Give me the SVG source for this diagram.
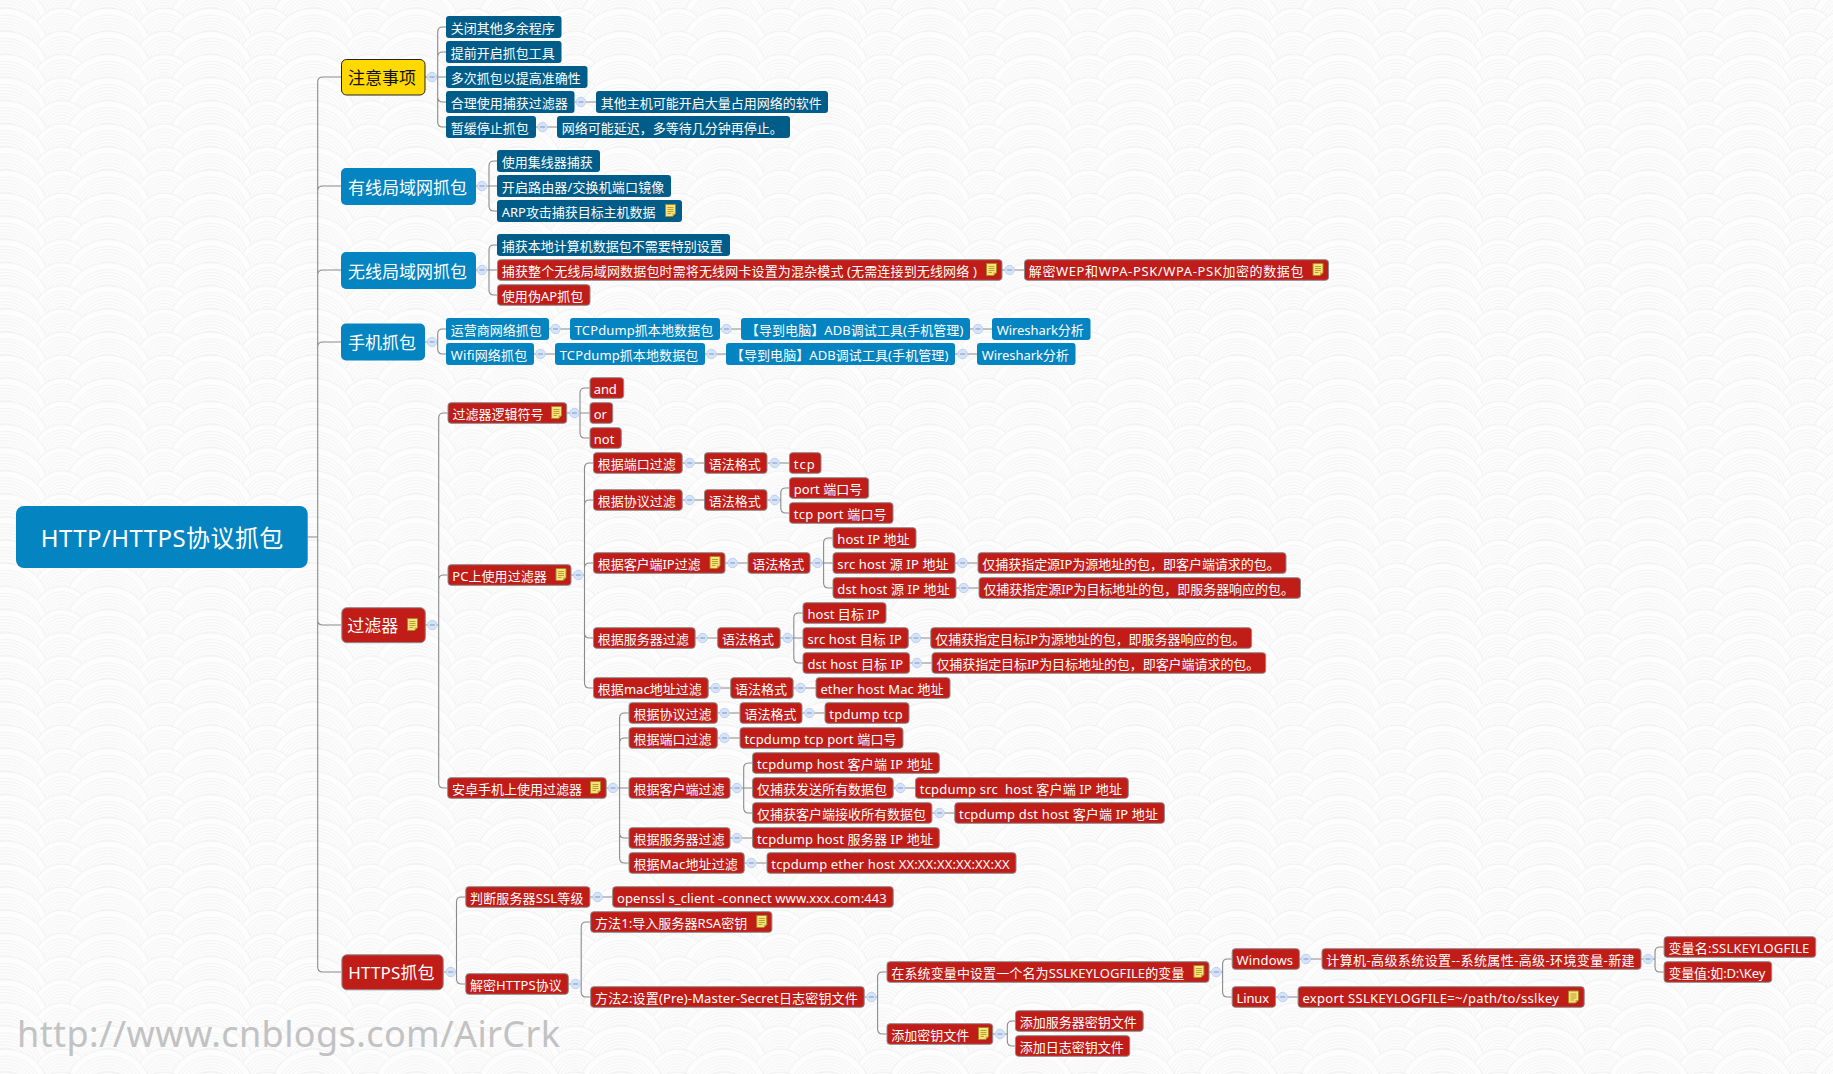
<svg xmlns="http://www.w3.org/2000/svg" xmlns:xlink="http://www.w3.org/1999/xlink" width="1833" height="1074" viewBox="0 0 1833 1074">
<style>
text{font-family:"Noto Sans","Noto Sans CJK SC",sans-serif;font-size:13px;fill:#fff;white-space:pre;transform:translateY(1.2px)}
.n rect{rx:3px;ry:3px}
.db rect{fill:#005c88}
.lb rect{fill:#0484c0}
.r rect{fill:#c01c18;stroke:#8c8c8c;stroke-width:1}
.big text{font-size:17px}
.big rect{rx:5px;ry:5px}
.y rect{fill:#ffd900;stroke:#222;stroke-width:1}
.y text{fill:#111}
#root rect{rx:8px;ry:8px}
#root text{font-size:24px}
.wm{font-size:36px;fill:#c2c2c2}
.cn path{fill:none;stroke:#8a8a8a;stroke-width:1.1}
.t{fill:none;stroke:#f1f1f1;stroke-width:.9}
</style>
<defs>
<g id="rowS"><circle cx="0" cy="29.5" r="28.5" fill="#fdfdfd" stroke="#eeeeee" stroke-width=".9"/><circle class="t" cy="29.5" r="23"/><circle class="t" cy="29.5" r="20"/><circle class="t" cy="29.5" r="17"/><circle class="t" cy="29.5" r="14"/><circle class="t" cy="29.5" r="11"/><circle class="t" cy="29.5" r="8"/></g>
<g id="rowB"><circle cx="0" cy="45" r="44" fill="#fdfdfd" stroke="#eeeeee" stroke-width=".9"/><circle class="t" cy="45" r="37"/><circle class="t" cy="45" r="34"/><circle class="t" cy="45" r="31"/><circle class="t" cy="45" r="28"/><circle class="t" cy="45" r="25"/><circle class="t" cy="45" r="22"/></g>
<g id="row"><use href="#rowS" x="5"/><use href="#rowS" x="107.67"/><use href="#rowB" x="-51.33"/><use href="#rowB" x="51.33"/><use href="#rowB" x="154"/></g>
<pattern id="bg" patternUnits="userSpaceOnUse" x="56.67" y="7.1" width="102.67" height="23.13"><rect width="102.67" height="23.13" fill="#fdfdfd"/><use href="#row" y="-69.39"/><use href="#row" y="-46.26"/><use href="#row" y="-23.13"/><use href="#row"/></pattern>
<g id="note"><path d="M.5 .5H10.5V9.5L7.5 12.5H.5Z" fill="#f8e47e" stroke="#a98a1f"/><path d="M2.5 3.5H8.5M2.5 5.5H8.5M2.5 7.5H8.5M2.5 9.5H6" fill="none" stroke="#a98a1f" stroke-width=".8"/><path d="M7.5 12.5V9.5H10.5Z" fill="#c9a53c"/></g>
<g id="c"><circle r="4.7" fill="#d6e4fa" stroke="#bdd0f0"/><path d="M-2.5 0H2.5" stroke="#7f95b8" fill="none"/></g>
</defs>
<rect width="1833" height="1074" fill="url(#bg)"/>
<text class="wm" x="17" y="1046" textLength="543">http://www.cnblogs.com/AirCrk</text>
<g id="connectors" class="cn">
<path d="M307.7 537H317.7M317.7 537V82q0-5 5-5H341M317.7 537V191q0-5 5-5H341M317.7 537V275q0-5 5-5H341M317.7 537V347q0-5 5-5H341M317.7 537V620q0 5 5 5H341M317.7 537V967q0 5 5 5H341"/>
<path d="M425 77H446M437.7 77V32q0-5 5-5H446M437.7 77V57q0-5 5-5H446M437.7 77V97q0 5 5 5H446M437.7 77V122q0 5 5 5H446"/>
<path d="M575 102H596M536 127H557"/>
<path d="M476 186H497M489 186V166q0-5 5-5H497M489 186V206q0 5 5 5H497"/>
<path d="M476 270H497M489 270V250q0-5 5-5H497M489 270V290q0 5 5 5H497M1002 270H1024"/>
<path d="M425 342H437.7M437.7 342V334q0-5 5-5H446M437.7 342V349q0 5 5 5H446"/>
<path d="M549 329H570M720 329H741M970 329H992M534 354H555M705 354H726M955 354H977"/>
<path d="M425.7 625H438.7M438.7 625V418q0-5 5-5H447.5M438.7 625V580q0-5 5-5H447.5M438.7 625V783q0 5 5 5H447.5"/>
<path d="M567 413H589.5M580 413V393q0-5 5-5H589.5M580 413V433q0 5 5 5H589.5"/>
<path d="M571.4 575H584.5M584.5 575V468q0-5 5-5H593M584.5 575V505q0-5 5-5H593M584.5 575V568q0-5 5-5H593M584.5 575V633q0 5 5 5H593M584.5 575V683q0 5 5 5H593"/>
<path d="M682.5 463H704M767.4 463H789M682.5 500H704"/>
<path d="M767.4 500H780.8M780.8 500V493q0-5 5-5H789M780.8 500V508q0 5 5 5H789"/>
<path d="M725.3 563H747.5M810.3 563H832.5M823.6 563V543q0-5 5-5H832.5M823.6 563V583q0 5 5 5H832.5M955.3 563H977.5M956.4 588H978.6"/>
<path d="M695.4 638H717.3M780.4 638H802.6M793.8 638V618q0-5 5-5H802.6M793.8 638V658q0 5 5 5H802.6M908.6 638H930.4M909.8 663H931.6"/>
<path d="M708.5 688H730.3M793.4 688H815.6"/>
<path d="M606.5 788H628.6M619.6 788V718q0-5 5-5H628.6M619.6 788V743q0-5 5-5H628.6M619.6 788V833q0 5 5 5H628.6M619.6 788V858q0 5 5 5H628.6"/>
<path d="M717.6 713H739.6M802.4 713H824.5M717.6 738H739.6M730.2 838H752.2M744.5 863H766.5"/>
<path d="M730.2 788H752.2M743.7 788V768q0-5 5-5H752.2M743.7 788V808q0 5 5 5H752.2M893.5 788H915M932.2 813H954.3"/>
<path d="M443.5 972H456.5M456.5 972V902q0-5 5-5H465.3M456.5 972V979q0 5 5 5H465.3M590.2 897H612.2"/>
<path d="M568.6 984H581.2M581.2 984V927q0-5 5-5H590.2M581.2 984V992q0 5 5 5H590.2"/>
<path d="M864.5 997H877.6M877.6 997V977q0-5 5-5H886.5M877.6 997V1029q0 5 5 5H886.5"/>
<path d="M1209.4 972H1222.6M1222.6 972V964q0-5 5-5H1231.7M1222.6 972V992q0 5 5 5H1231.7"/>
<path d="M1299.7 959H1321.5M1275.8 997H1297.6"/>
<path d="M1641.3 959H1655M1655 959V952q0-5 5-5H1663.6M1655 959V967q0 5 5 5H1663.6"/>
<path d="M993 1034H1007.3M1007.3 1034V1026q0-5 5-5H1015M1007.3 1034V1041q0 5 5 5H1015"/>
<use href="#c" x="432" y="77"/><use href="#c" x="581" y="102"/><use href="#c" x="542.5" y="127"/>
<use href="#c" x="482" y="186"/><use href="#c" x="482" y="270"/><use href="#c" x="1009.6" y="270"/>
<use href="#c" x="432" y="342"/><use href="#c" x="555.5" y="329"/><use href="#c" x="726.5" y="329"/><use href="#c" x="978" y="329"/>
<use href="#c" x="540.5" y="354"/><use href="#c" x="711.5" y="354"/><use href="#c" x="962.6" y="354"/>
<use href="#c" x="432.3" y="625"/><use href="#c" x="574.5" y="413"/><use href="#c" x="578.3" y="575"/>
<use href="#c" x="689.7" y="463"/><use href="#c" x="774.7" y="463"/><use href="#c" x="689.7" y="500"/><use href="#c" x="774.7" y="500"/>
<use href="#c" x="732.6" y="563"/><use href="#c" x="817.5" y="563"/><use href="#c" x="962.6" y="563"/><use href="#c" x="963.7" y="588"/>
<use href="#c" x="702.7" y="638"/><use href="#c" x="787.7" y="638"/><use href="#c" x="915.9" y="638"/><use href="#c" x="917" y="663"/>
<use href="#c" x="715.7" y="688"/><use href="#c" x="800.7" y="688"/>
<use href="#c" x="613" y="788"/><use href="#c" x="724.5" y="713"/><use href="#c" x="809.4" y="713"/><use href="#c" x="724.5" y="738"/>
<use href="#c" x="737" y="788"/><use href="#c" x="900.4" y="788"/><use href="#c" x="939.6" y="813"/><use href="#c" x="737" y="838"/><use href="#c" x="751.4" y="863"/>
<use href="#c" x="450.8" y="972"/><use href="#c" x="597.6" y="897"/><use href="#c" x="575.5" y="984"/><use href="#c" x="871.4" y="997"/>
<use href="#c" x="1216.3" y="972"/><use href="#c" x="1306" y="959"/><use href="#c" x="1648" y="959"/><use href="#c" x="1282.7" y="997"/><use href="#c" x="1000" y="1034"/>
</g>
<g id="root" class="n lb"><rect x="16" y="506" width="291.7" height="62"/><text x="40.7" y="545.5" textLength="242.6">HTTP/HTTPS协议抓包</text></g>

<g id="t1" class="n big y"><rect x="341.5" y="59.5" width="83.5" height="35.5"/><text x="348" y="83">注意事项</text></g>
<g id="t1a" class="n db"><rect x="446" y="16" width="115.5" height="22"/><text x="450.8" y="31.5">关闭其他多余程序</text></g>
<g id="t1b" class="n db"><rect x="446" y="41" width="115.5" height="22"/><text x="450.8" y="56.5">提前开启抓包工具</text></g>
<g id="t1c" class="n db"><rect x="446" y="66" width="141.5" height="22"/><text x="450.8" y="81.5">多次抓包以提高准确性</text></g>
<g id="t1d" class="n db"><rect x="446" y="91" width="128.5" height="22"/><text x="450.8" y="106.5">合理使用捕获过滤器</text></g>
<g id="t1d1" class="n db"><rect x="596" y="91" width="232" height="22"/><text x="600.8" y="106.5">其他主机可能开启大量占用网络的软件</text></g>
<g id="t1e" class="n db"><rect x="446" y="116" width="90" height="22"/><text x="450.8" y="131.5">暂缓停止抓包</text></g>
<g id="t1e1" class="n db"><rect x="557" y="116" width="233" height="22"/><text x="561.8" y="131.5">网络可能延迟，多等待几分钟再停止。</text></g>

<g id="t2" class="n big lb"><rect x="341" y="168" width="135" height="37"/><text x="348" y="192.5">有线局域网抓包</text></g>
<g id="t2a" class="n db"><rect x="497" y="150" width="103" height="22"/><text x="501.8" y="165.5">使用集线器捕获</text></g>
<g id="t2b" class="n db"><rect x="497" y="175" width="174" height="22"/><text x="501.8" y="190.5" textLength="162.5">开启路由器/交换机端口镜像</text></g>
<g id="t2c" class="n db"><rect x="497" y="200" width="185" height="22"/><text x="501.8" y="215.5" textLength="153.7">ARP攻击捕获目标主机数据</text><use href="#note" x="665" y="204"/></g>

<g id="t3" class="n big lb"><rect x="341" y="252" width="135" height="37"/><text x="348" y="276.5">无线局域网抓包</text></g>
<g id="t3a" class="n db"><rect x="497" y="234" width="233" height="22"/><text x="501.8" y="249.5">捕获本地计算机数据包不需要特别设置</text></g>
<g id="t3b" class="n r"><rect x="497.5" y="259.7" width="504.5" height="20.6"/><text x="501.8" y="274.5" textLength="475">捕获整个无线局域网数据包时需将无线网卡设置为混杂模式 (无需连接到无线网络 )</text><use href="#note" x="986" y="263"/></g>
<g id="t3b1" class="n r"><rect x="1024.5" y="259.7" width="304" height="20.6"/><text x="1028.8" y="274.5" textLength="274.7">解密WEP和WPA-PSK/WPA-PSK加密的数据包</text><use href="#note" x="1312.5" y="263"/></g>
<g id="t3c" class="n r"><rect x="497.5" y="284.7" width="92.5" height="20.6"/><text x="501.8" y="299.5" textLength="81.5">使用伪AP抓包</text></g>

<g id="t4" class="n big lb"><rect x="341" y="323.5" width="84" height="37"/><text x="348" y="348">手机抓包</text></g>
<g id="t4a" class="n lb"><rect x="446" y="318" width="103" height="22"/><text x="450.8" y="333.5">运营商网络抓包</text></g>
<g id="t4a1" class="n lb"><rect x="570" y="318" width="150" height="22"/><text x="574.8" y="333.5" textLength="138.5">TCPdump抓本地数据包</text></g>
<g id="t4a2" class="n lb"><rect x="741" y="318" width="229" height="22"/><text x="745.8" y="333.5" textLength="217.5">【导到电脑】ADB调试工具(手机管理)</text></g>
<g id="t4a3" class="n lb"><rect x="992" y="318" width="98.5" height="22"/><text x="996.8" y="333.5" textLength="87">Wireshark分析</text></g>
<g id="t4b" class="n lb"><rect x="446" y="343" width="88" height="22"/><text x="450.8" y="358.5" textLength="76.5">Wifi网络抓包</text></g>
<g id="t4b1" class="n lb"><rect x="555" y="343" width="150" height="22"/><text x="559.8" y="358.5" textLength="138.5">TCPdump抓本地数据包</text></g>
<g id="t4b2" class="n lb"><rect x="726" y="343" width="229" height="22"/><text x="730.8" y="358.5" textLength="217.5">【导到电脑】ADB调试工具(手机管理)</text></g>
<g id="t4b3" class="n lb"><rect x="977" y="343" width="98.5" height="22"/><text x="981.8" y="358.5" textLength="87">Wireshark分析</text></g>

<g id="t5" class="n big r"><rect x="341.8" y="607.7" width="83.5" height="35"/><text x="347.3" y="631">过滤器</text><use href="#note" x="407" y="618"/></g>
<g id="f1" class="n r"><rect x="448" y="402.7" width="118.7" height="20.6"/><text x="452.4" y="417.5">过滤器逻辑符号</text><use href="#note" x="551" y="406"/></g>
<g id="f1a" class="n r"><rect x="590" y="377.7" width="33.7" height="20.6"/><text x="593.8" y="392.5" textLength="23">and</text></g>
<g id="f1b" class="n r"><rect x="590" y="402.7" width="22.7" height="20.6"/><text x="593.8" y="417.5" textLength="13">or</text></g>
<g id="f1c" class="n r"><rect x="590" y="427.7" width="31.3" height="20.6"/><text x="593.8" y="442.5" textLength="20.6">not</text></g>

<g id="f2" class="n r"><rect x="448" y="564.7" width="123" height="20.6"/><text x="452.3" y="579.5" textLength="94.5">PC上使用过滤器</text><use href="#note" x="555.5" y="568"/></g>
<g id="p1" class="n r"><rect x="593.5" y="452.7" width="88.7" height="20.6"/><text x="597.8" y="467.5">根据端口过滤</text></g>
<g id="p1a" class="n r"><rect x="704.5" y="452.7" width="62.5" height="20.6"/><text x="708.8" y="467.5">语法格式</text></g>
<g id="p1b" class="n r"><rect x="789.5" y="452.7" width="31.5" height="20.6"/><text x="793.8" y="467.5" textLength="21">tcp</text></g>
<g id="p2" class="n r"><rect x="593.5" y="489.7" width="88.7" height="20.6"/><text x="597.8" y="504.5">根据协议过滤</text></g>
<g id="p2a" class="n r"><rect x="704.5" y="489.7" width="62.5" height="20.6"/><text x="708.8" y="504.5">语法格式</text></g>
<g id="p2b" class="n r"><rect x="789.5" y="477.7" width="79.2" height="20.6"/><text x="793.8" y="492.5" textLength="68.5">port 端口号</text></g>
<g id="p2c" class="n r"><rect x="789.5" y="502.7" width="103.5" height="20.6"/><text x="793.8" y="517.5" textLength="92.8">tcp port 端口号</text></g>
<g id="p3" class="n r"><rect x="593.5" y="552.7" width="131.5" height="20.6"/><text x="597.8" y="567.5" textLength="102.8">根据客户端IP过滤</text><use href="#note" x="709.5" y="556"/></g>
<g id="p3a" class="n r"><rect x="748" y="552.7" width="62" height="20.6"/><text x="752.3" y="567.5">语法格式</text></g>
<g id="p3b" class="n r"><rect x="833" y="527.7" width="83" height="20.6"/><text x="837.3" y="542.5" textLength="72.3">host IP 地址</text></g>
<g id="p3c" class="n r"><rect x="833" y="552.7" width="122" height="20.6"/><text x="837.3" y="567.5" textLength="111.3">src host 源 IP 地址</text></g>
<g id="p3c1" class="n r"><rect x="978" y="552.7" width="308" height="20.6"/><text x="982.3" y="567.5" textLength="297.4">仅捕获指定源IP为源地址的包，即客户端请求的包。</text></g>
<g id="p3d" class="n r"><rect x="833" y="577.7" width="123" height="20.6"/><text x="837.3" y="592.5" textLength="112.4">dst host 源 IP 地址</text></g>
<g id="p3d1" class="n r"><rect x="979" y="577.7" width="321.5" height="20.6"/><text x="983.4" y="592.5" textLength="310.6">仅捕获指定源IP为目标地址的包，即服务器响应的包。</text></g>
<g id="p4" class="n r"><rect x="593.5" y="627.7" width="101.6" height="20.6"/><text x="597.8" y="642.5">根据服务器过滤</text></g>
<g id="p4a" class="n r"><rect x="717.7" y="627.7" width="62.4" height="20.6"/><text x="722" y="642.5">语法格式</text></g>
<g id="p4b" class="n r"><rect x="803" y="602.7" width="83" height="20.6"/><text x="807.4" y="617.5" textLength="72.3">host 目标 IP</text></g>
<g id="p4c" class="n r"><rect x="803" y="627.7" width="105.3" height="20.6"/><text x="807.4" y="642.5" textLength="94.5">src host 目标 IP</text></g>
<g id="p4c1" class="n r"><rect x="930.8" y="627.7" width="320.8" height="20.6"/><text x="935.2" y="642.5" textLength="310">仅捕获指定目标IP为源地址的包，即服务器响应的包。</text></g>
<g id="p4d" class="n r"><rect x="803" y="652.7" width="106.5" height="20.6"/><text x="807.4" y="667.5" textLength="95.7">dst host 目标 IP</text></g>
<g id="p4d1" class="n r"><rect x="932" y="652.7" width="333.7" height="20.6"/><text x="936.4" y="667.5" textLength="322.9">仅捕获指定目标IP为目标地址的包，即客户端请求的包。</text></g>
<g id="p5" class="n r"><rect x="593.5" y="677.7" width="114.7" height="20.6"/><text x="597.8" y="692.5" textLength="104">根据mac地址过滤</text></g>
<g id="p5a" class="n r"><rect x="730.7" y="677.7" width="62.4" height="20.6"/><text x="735" y="692.5">语法格式</text></g>
<g id="p5b" class="n r"><rect x="816" y="677.7" width="134" height="20.6"/><text x="820.4" y="692.5" textLength="123.2">ether host Mac 地址</text></g>

<g id="f3" class="n r"><rect x="447.7" y="777.7" width="158.5" height="20.6"/><text x="452" y="792.5">安卓手机上使用过滤器</text><use href="#note" x="590" y="781"/></g>
<g id="a1" class="n r"><rect x="629" y="702.7" width="88.3" height="20.6"/><text x="633.4" y="717.5">根据协议过滤</text></g>
<g id="a1a" class="n r"><rect x="740" y="702.7" width="62" height="20.6"/><text x="744.4" y="717.5">语法格式</text></g>
<g id="a1b" class="n r"><rect x="825" y="702.7" width="84" height="20.6"/><text x="829.3" y="717.5" textLength="73.4">tpdump tcp</text></g>
<g id="a2" class="n r"><rect x="629" y="727.7" width="88.3" height="20.6"/><text x="633.4" y="742.5">根据端口过滤</text></g>
<g id="a2a" class="n r"><rect x="740" y="727.7" width="163" height="20.6"/><text x="744.4" y="742.5" textLength="152.2">tcpdump tcp port 端口号</text></g>
<g id="a3" class="n r"><rect x="629" y="777.7" width="101" height="20.6"/><text x="633.4" y="792.5">根据客户端过滤</text></g>
<g id="a3a" class="n r"><rect x="752.6" y="752.7" width="186.7" height="20.6"/><text x="757" y="767.5" textLength="175.9">tcpdump host 客户端 IP 地址</text></g>
<g id="a3b" class="n r"><rect x="752.6" y="777.7" width="140.6" height="20.6"/><text x="757" y="792.5">仅捕获发送所有数据包</text></g>
<g id="a3b1" class="n r"><rect x="915.5" y="777.7" width="212.8" height="20.6"/><text x="919.8" y="792.5" textLength="202.1">tcpdump src  host 客户端 IP 地址</text></g>
<g id="a3c" class="n r"><rect x="752.6" y="802.7" width="179.3" height="20.6"/><text x="757" y="817.5">仅捕获客户端接收所有数据包</text></g>
<g id="a3c1" class="n r"><rect x="954.8" y="802.7" width="209.6" height="20.6"/><text x="959.1" y="817.5" textLength="198.9">tcpdump dst host 客户端 IP 地址</text></g>
<g id="a4" class="n r"><rect x="629" y="827.7" width="101" height="20.6"/><text x="633.4" y="842.5">根据服务器过滤</text></g>
<g id="a4a" class="n r"><rect x="752.6" y="827.7" width="186.7" height="20.6"/><text x="757" y="842.5" textLength="175.9">tcpdump host 服务器 IP 地址</text></g>
<g id="a5" class="n r"><rect x="629" y="852.7" width="115.2" height="20.6"/><text x="633.4" y="867.5" textLength="104.4">根据Mac地址过滤</text></g>
<g id="a5a" class="n r"><rect x="767" y="852.7" width="249" height="20.6"/><text x="771.3" y="867.5" textLength="238.3">tcpdump ether host XX:XX:XX:XX:XX:XX</text></g>

<g id="t6" class="n big r"><rect x="341.9" y="954.8" width="101.3" height="35"/><text x="348.3" y="978" textLength="86.2">HTTPS抓包</text></g>
<g id="h1" class="n r"><rect x="465.8" y="886.7" width="124.1" height="20.6"/><text x="470" y="901.5" textLength="113.4">判断服务器SSL等级</text></g>
<g id="h1a" class="n r"><rect x="612.7" y="886.7" width="280.5" height="20.6"/><text x="617" y="901.5" textLength="269.8">openssl s_client -connect www.xxx.com:443</text></g>
<g id="h2" class="n r"><rect x="465.8" y="973.7" width="102.5" height="20.6"/><text x="470" y="988.5" textLength="91.8">解密HTTPS协议</text></g>
<g id="h2a" class="n r"><rect x="590.7" y="911.7" width="181.2" height="20.6"/><text x="595" y="926.5" textLength="152.3">方法1:导入服务器RSA密钥</text><use href="#note" x="756.3" y="915"/></g>
<g id="h2b" class="n r"><rect x="590.7" y="986.7" width="273.5" height="20.6"/><text x="595" y="1001.5" textLength="262.8">方法2:设置(Pre)-Master-Secret日志密钥文件</text></g>
<g id="h3" class="n r"><rect x="887" y="961.7" width="322" height="20.6"/><text x="891.3" y="976.5" textLength="293.1">在系统变量中设置一个名为SSLKEYLOGFILE的变量</text><use href="#note" x="1193.4" y="965"/></g>
<g id="h3a" class="n r"><rect x="1232.2" y="948.7" width="67.2" height="20.6"/><text x="1236.5" y="963.5" textLength="56.5">Windows</text></g>
<g id="h3a1" class="n r"><rect x="1322" y="948.7" width="319" height="20.6"/><text x="1326.3" y="963.5" textLength="308.3">计算机-高级系统设置--系统属性-高级-环境变量-新建</text></g>
<g id="h3a2" class="n r"><rect x="1664.1" y="936.7" width="151.6" height="20.6"/><text x="1668.4" y="951.5" textLength="140.9">变量名:SSLKEYLOGFILE</text></g>
<g id="h3a3" class="n r"><rect x="1664.1" y="961.7" width="107.6" height="20.6"/><text x="1668.4" y="976.5" textLength="96.9">变量值:如:D:\Key</text></g>
<g id="h3b" class="n r"><rect x="1232.2" y="986.7" width="43.3" height="20.6"/><text x="1236.5" y="1001.5" textLength="32.6">Linux</text></g>
<g id="h3b1" class="n r"><rect x="1298.1" y="986.7" width="286.1" height="20.6"/><text x="1302.4" y="1001.5" textLength="256.6">export SSLKEYLOGFILE=~/path/to/sslkey</text><use href="#note" x="1568" y="990.5"/></g>
<g id="h4" class="n r"><rect x="887" y="1023.7" width="105.7" height="20.6"/><text x="891.3" y="1038.5">添加密钥文件</text><use href="#note" x="978" y="1027"/></g>
<g id="h4a" class="n r"><rect x="1015.5" y="1010.7" width="127.7" height="20.6"/><text x="1019.8" y="1025.5">添加服务器密钥文件</text></g>
<g id="h4b" class="n r"><rect x="1015.5" y="1035.7" width="114.2" height="20.6"/><text x="1019.8" y="1050.5">添加日志密钥文件</text></g>
</svg>
